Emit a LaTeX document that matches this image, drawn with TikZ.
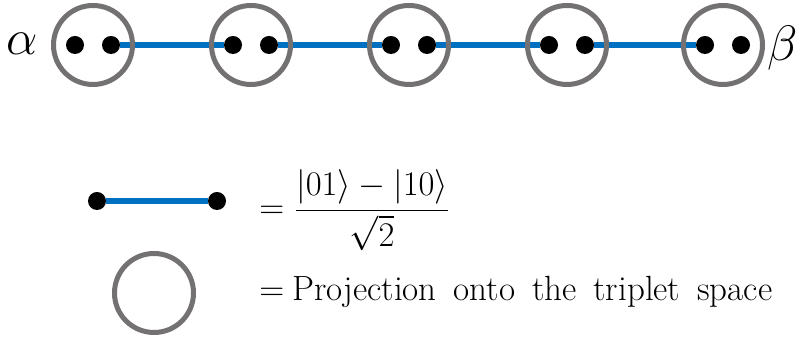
\documentclass[tikz,border=0pt]{standalone}
\usepackage{amsmath,amssymb}
\usetikzlibrary{backgrounds}
\definecolor{bondBlue}{RGB}{0,112,192}
\definecolor{projGray}{RGB}{115,113,113}

\begin{document}
\begin{tikzpicture}
[x=0.5pt,y=0.5pt,
vertex/.style={circle,minimum size=9pt,inner sep=0pt,fill=black},
projection/.style={circle,minimum size=39.5pt,inner sep=0pt,draw=projGray,line width=2.5pt},
bond/.style={line width=3pt,bondBlue},
endLabel/.style={inner sep=0pt,font=\fontsize{24}{28}\selectfont},
legendLabel/.style={inner sep=0pt,anchor=base west,font=\fontsize{16}{19}\selectfont}]
\useasboundingbox (0,0) rectangle (797,340);
\node[projection] (c1) at (93 , 295) {}; 
\node[projection] (c2) at (251 , 295) {}; 
\node[projection] (c3) at (409 , 295) {}; 
\node[projection] (c4) at (567 , 295) {}; 
\node[projection] (c5) at (723 , 295) {}; 
\node[vertex] (1) at (75 , 295) {}; 
\node[vertex] (2) at (111 , 295) {}; 
\node[vertex] (3) at (233 , 295) {}; 
\node[vertex] (4) at (269 , 295) {}; 
\node[vertex] (5) at (391 , 295) {}; 
\node[vertex] (6) at (427 , 295) {}; 
\node[vertex] (7) at (549 , 295) {}; 
\node[vertex] (8) at (585 , 295) {}; 
\node[vertex] (9) at (705 , 295) {}; 
\node[vertex] (10) at (741 , 295) {}; 
\node[endLabel] (alpha) at (22 , 296) {$\alpha$}; 
\node[endLabel] (beta) at (783 , 292) {$\beta$}; 
% legend
\node[vertex] (11) at (97 , 139) {}; 
\node[vertex] (12) at (217 , 139) {}; 
\node[projection] (c6) at (154 , 47) {}; 
\node[legendLabel] (singlet) at (259 , 121) {$=\dfrac{|01\rangle-|10\rangle}{\sqrt{2}}$}; 
\node[legendLabel] (triplet) at (259 , 39) {$=$\hspace{4pt}{\fontsize{17.5}{21}\selectfont\makebox[240pt][s]{Projection onto the triplet space}}}; 
\begin{scope}[on background layer]
\draw[bond](2) -- (3) ; 
\draw[bond](4) -- (5) ; 
\draw[bond](6) -- (7) ; 
\draw[bond](8) -- (9) ; 
\draw[bond](11) -- (12) ; 
\end{scope}
\end{tikzpicture}
\end{document}
